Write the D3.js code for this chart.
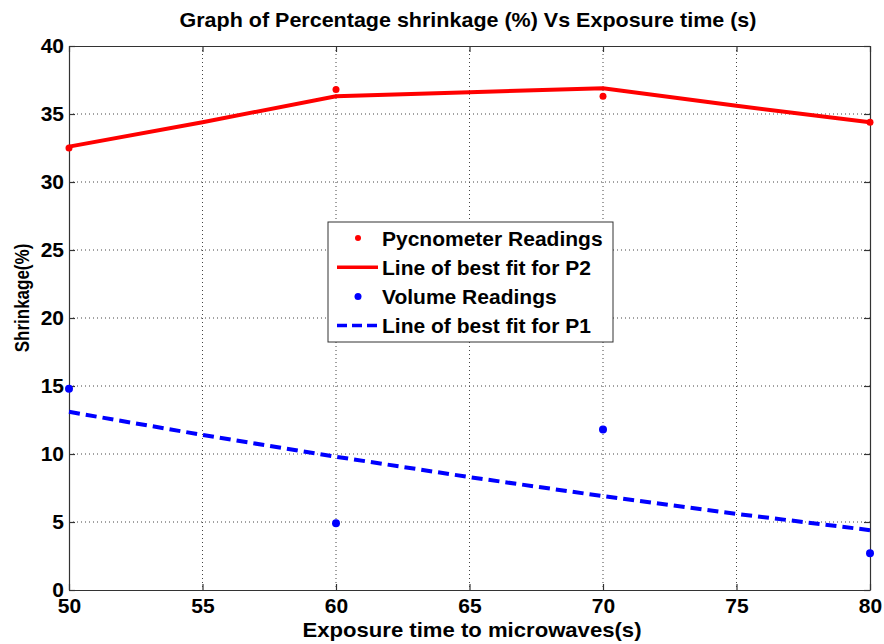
<!DOCTYPE html>
<html>
<head>
<meta charset="utf-8">
<script src="https://cdn.jsdelivr.net/npm/d3@7"></script>
<style>
  body { margin: 0; background: #fff; }
  text { font-family: Arial, "Liberation Sans", sans-serif; font-weight: bold; fill: #000; }
</style>
</head>
<body>
<div id="chart"></div>
<script>
// Data
var xTicks = [50, 55, 60, 65, 70, 75, 80];
var yTicks = [0, 5, 10, 15, 20, 25, 30, 35, 40];

var pycnoTimes = [50, 60, 70, 80];
var pycnoValues = [32.5, 36.8, 36.3, 34.4];

var p2FitTimes = [50, 55, 60, 65, 70, 75, 80];
var p2FitValues = [32.6, 34.4, 36.3, 36.6, 36.9, 35.6, 34.4];

var volumeTimes = [50, 60, 70, 80];
var volumeValues = [14.8, 4.9, 11.8, 2.7];

var p1FitTimes = [50, 55, 60, 65, 70, 75, 80];
var p1FitValues = [13.1, 11.4, 9.8, 8.3, 6.9, 5.6, 4.4];

var svgWidth = 884;
var svgHeight = 644;

var margin = { top: 46, right: 14, bottom: 54, left: 69 };
var width = svgWidth - margin.left - margin.right;
var height = svgHeight - margin.top - margin.bottom;

var svg = d3.select("#chart")
  .append("svg")
  .attr("width", svgWidth)
  .attr("height", svgHeight);

var chartGroup = svg.append("g")
  .attr("transform", `translate(${margin.left}, ${margin.top})`);

var xScale = d3.scaleLinear().domain([50, 80]).range([0, width]);
var yScale = d3.scaleLinear().domain([0, 40]).range([height, 0]);

// grid lines
chartGroup.append("g")
  .selectAll("line.gx")
  .data(xTicks.slice(1, -1))
  .enter()
  .append("line")
  .attr("x1", d => xScale(d)).attr("x2", d => xScale(d))
  .attr("y1", 0).attr("y2", height)
  .attr("stroke", "#444").attr("stroke-width", 1)
  .attr("stroke-dasharray", "1,3");

chartGroup.append("g")
  .selectAll("line.gy")
  .data(yTicks.slice(1, -1))
  .enter()
  .append("line")
  .attr("x1", 0).attr("x2", width)
  .attr("y1", d => yScale(d)).attr("y2", d => yScale(d))
  .attr("stroke", "#444").attr("stroke-width", 1)
  .attr("stroke-dasharray", "1,3");

// axes, MATLAB style ticks pointing inwards
var bottomAxis = d3.axisBottom(xScale).tickValues(xTicks).tickSizeInner(-6).tickSizeOuter(0).tickPadding(8);
var leftAxis = d3.axisLeft(yScale).tickValues(yTicks).tickSizeInner(-6).tickSizeOuter(0).tickPadding(5);
var topAxis = d3.axisTop(xScale).tickValues(xTicks).tickSizeInner(-6).tickSizeOuter(0).tickFormat("");
var rightAxis = d3.axisRight(yScale).tickValues(yTicks).tickSizeInner(-6).tickSizeOuter(0).tickFormat("");

chartGroup.append("g").attr("class", "axis").attr("transform", `translate(0, ${height})`).call(bottomAxis);
chartGroup.append("g").attr("class", "axis").call(leftAxis);
chartGroup.append("g").attr("class", "axis").call(topAxis);
chartGroup.append("g").attr("class", "axis").attr("transform", `translate(${width}, 0)`).call(rightAxis);

chartGroup.selectAll(".axis path, .axis line").attr("stroke", "#333").attr("stroke-width", 1.2);
chartGroup.selectAll(".axis text")
  .attr("font-size", 21)
  .style("font-size", "21px")
  .style("font-family", "Arial, 'Liberation Sans', sans-serif")
  .style("font-weight", "bold")
  .attr("fill", "#000");

// fitted lines
var line = d3.line().x(d => xScale(d[0])).y(d => yScale(d[1]));

chartGroup.append("path")
  .datum(p2FitTimes.map((t, i) => [t, p2FitValues[i]]))
  .attr("d", line)
  .attr("fill", "none")
  .attr("stroke", "#ff0000")
  .attr("stroke-width", 4);

chartGroup.append("path")
  .datum(p1FitTimes.map((t, i) => [t, p1FitValues[i]]))
  .attr("d", line)
  .attr("fill", "none")
  .attr("stroke", "#0000ff")
  .attr("stroke-width", 4)
  .attr("stroke-dasharray", "11,6");

// readings
chartGroup.selectAll("circle.pyc")
  .data(pycnoTimes.map((t, i) => [t, pycnoValues[i]]))
  .enter()
  .append("circle")
  .attr("cx", d => xScale(d[0]))
  .attr("cy", d => yScale(d[1]))
  .attr("r", 3.5)
  .attr("fill", "#ff0000");

chartGroup.selectAll("circle.vol")
  .data(volumeTimes.map((t, i) => [t, volumeValues[i]]))
  .enter()
  .append("circle")
  .attr("cx", d => xScale(d[0]))
  .attr("cy", d => yScale(d[1]))
  .attr("r", 4)
  .attr("fill", "#0000ff");

// title and axis labels
svg.append("text")
  .attr("x", 468).attr("y", 27)
  .attr("text-anchor", "middle")
  .style("font-size", "21px")
  .attr("textLength", 577)
  .attr("lengthAdjust", "spacingAndGlyphs")
  .text("Graph of Percentage shrinkage (%) Vs Exposure time (s)");

svg.append("text")
  .attr("x", 472).attr("y", 637)
  .attr("text-anchor", "middle")
  .style("font-size", "21px")
  .attr("textLength", 339)
  .attr("lengthAdjust", "spacingAndGlyphs")
  .text("Exposure time to microwaves(s)");

svg.append("text")
  .attr("transform", "translate(29, 298) rotate(-90) scale(1, 1.2)")
  .attr("text-anchor", "middle")
  .style("font-size", "17px")
  .text("Shrinkage(%)");

// legend
var legend = svg.append("g").attr("transform", "translate(328, 222)");
legend.append("rect")
  .attr("width", 285).attr("height", 120)
  .attr("fill", "#fff").attr("stroke", "#333").attr("stroke-width", 1);

var legendItems = [
  { label: "Pycnometer Readings", kind: "dot", color: "#ff0000" },
  { label: "Line of best fit for P2", kind: "line", color: "#ff0000" },
  { label: "Volume Readings", kind: "dot", color: "#0000ff" },
  { label: "Line of best fit for P1", kind: "dash", color: "#0000ff" }
];

legendItems.forEach(function(item, i) {
  var y = 16 + i * 29.2;
  if (item.kind === "dot") {
    legend.append("circle").attr("cx", 30).attr("cy", y).attr("r", item.color === "#ff0000" ? 3 : 3.5).attr("fill", item.color);
  } else {
    legend.append("line")
      .attr("x1", 9).attr("x2", 50).attr("y1", y).attr("y2", y)
      .attr("stroke", item.color).attr("stroke-width", 3.5)
      .attr("stroke-dasharray", item.kind === "dash" ? "10,5" : null);
  }
  legend.append("text")
    .attr("x", 54).attr("y", y + 7.5)
    .style("font-size", "21px")
    .text(item.label);
});
</script>
</body>
</html>
